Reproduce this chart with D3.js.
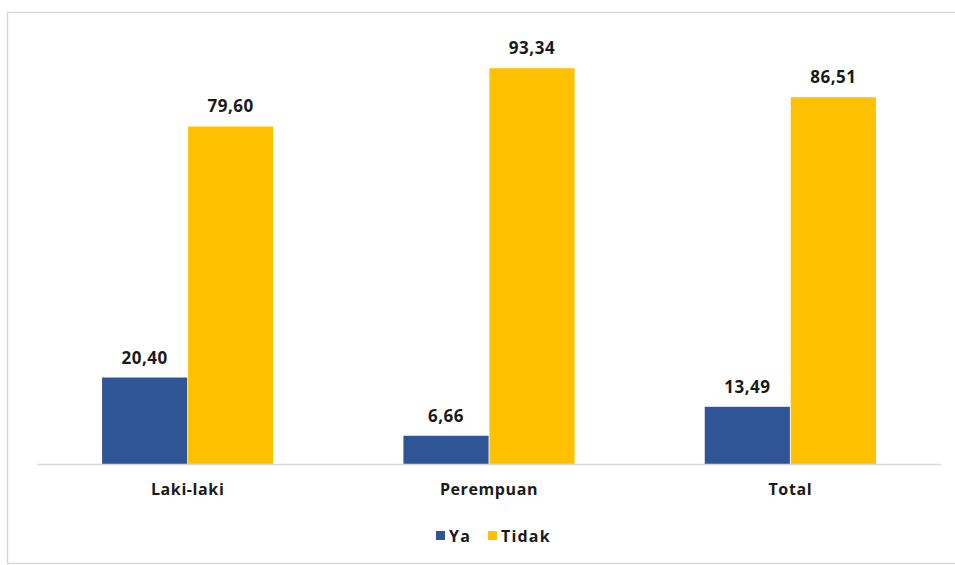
<!DOCTYPE html>
<html>
<head>
<meta charset="utf-8">
<script src="https://cdn.jsdelivr.net/npm/d3@7"></script>
<style>
  html, body { margin: 0; padding: 0; background: #ffffff; }
  svg { display: block; }
  text { font-family: "Open Sans", "Lato", "DejaVu Sans", sans-serif; font-weight: bold; fill: #1a1a1a; }
</style>
</head>
<body>
<svg id="chart" width="955" height="565"></svg>
<script>
// Chart data
const categories = ["Laki-laki", "Perempuan", "Total"];
const seriesNames = ["Ya", "Tidak"];
const yaValues = [20.40, 6.66, 13.49];
const tidakValues = [79.60, 93.34, 86.51];
const seriesColors = ["#2F5597", "#FFC000"];

const rows = categories.map((c, i) => ({ category: c, values: [yaValues[i], tidakValues[i]] }));

const svg = d3.select("#chart");
const W = 955, H = 565;

// Outer chart frame
svg.append("rect")
  .attr("x", 7.5).attr("y", 12.5)
  .attr("width", W + 10).attr("height", H - 14)
  .attr("fill", "#ffffff")
  .attr("stroke", "#d9d9d9").attr("stroke-width", 1.5);

const plot = { left: 37, right: 941, top: 40, bottom: 464 };

const x0 = d3.scaleBand()
  .domain(categories)
  .range([plot.left, plot.right])
  .paddingInner(0.432)
  .paddingOuter(0.216);

const x1 = d3.scaleBand()
  .domain(seriesNames)
  .range([0, x0.bandwidth()])
  .paddingInner(0.01);

const y = d3.scaleLinear().domain([0, 100]).range([plot.bottom, plot.top]);

const fmt = v => d3.format(".2f")(v).replace(".", ",");

// Bars
const groups = svg.append("g").selectAll("g")
  .data(rows).join("g")
  .attr("transform", d => `translate(${x0(d.category)},0)`);

groups.selectAll("rect")
  .data(d => d.values.map((v, i) => ({ v, s: seriesNames[i], i })))
  .join("rect")
  .attr("x", d => x1(d.s))
  .attr("y", d => y(d.v))
  .attr("width", x1.bandwidth())
  .attr("height", d => y(0) - y(d.v))
  .attr("fill", d => seriesColors[d.i]);

// Value labels
groups.selectAll("text.val")
  .data(d => d.values.map((v, i) => ({ v, s: seriesNames[i], i })))
  .join("text")
  .attr("class", "val")
  .attr("x", d => x1(d.s) + x1.bandwidth() / 2)
  .attr("y", d => y(d.v) - 14)
  .attr("text-anchor", "middle")
  .attr("font-size", 17)
  .attr("letter-spacing", 0.5)
  .text(d => fmt(d.v));

// Category axis baseline and labels
const xAxis = svg.append("g")
  .attr("transform", `translate(0,${plot.bottom})`)
  .call(d3.axisBottom(x0).tickSize(0).tickPadding(20));
xAxis.select(".domain").attr("stroke", "#d9d9d9").attr("stroke-width", 1.5);
xAxis.selectAll("text")
  .attr("font-size", 16)
  .attr("letter-spacing", 0.6)
  .attr("font-family", "'Open Sans', Lato, sans-serif")
  .attr("font-weight", "bold")
  .attr("fill", "#1a1a1a");

// Legend
const legend = svg.append("g").attr("transform", "translate(436,536)");
const legendItems = [
  { name: seriesNames[0], color: seriesColors[0], dx: 0 },
  { name: seriesNames[1], color: seriesColors[1], dx: 52 }
];
legendItems.forEach(it => {
  const g = legend.append("g").attr("transform", `translate(${it.dx},0)`);
  g.append("rect").attr("x", 0).attr("y", -5).attr("width", 9).attr("height", 9).attr("fill", it.color);
  g.append("text").attr("x", 13).attr("y", 0).attr("dy", "0.36em")
    .attr("font-size", 16).attr("letter-spacing", 1.2).text(it.name);
});
</script>
</body>
</html>
